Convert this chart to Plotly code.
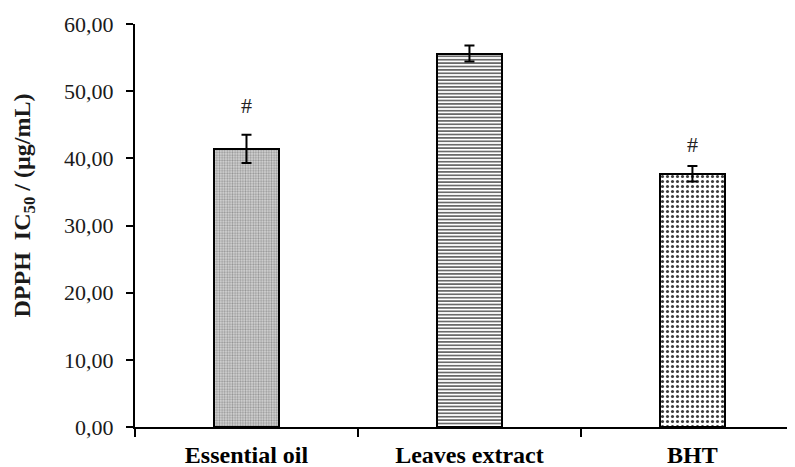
import plotly.graph_objects as go

categories = ["Essential oil", "Leaves extract", "BHT"]
ic50 = [41.4, 55.6, 37.7]
sd = [2.1, 1.2, 1.15]
marks = ["#", "", "#"]

patterns = [
    dict(shape=".", size=2.6, solidity=0.45, fgcolor="#959595", bgcolor="#d8d8d8", fillmode="replace"),
    dict(shape="-", size=3.4, solidity=0.45, fgcolor="#5a5a5a", bgcolor="white", fillmode="replace"),
    dict(shape=".", size=5, solidity=0.3, fgcolor="#3c3c3c", bgcolor="white", fillmode="replace"),
]

fig = go.Figure()
for i, c in enumerate(categories):
    fig.add_trace(go.Bar(
        x=[c], y=[ic50[i]],
        width=0.29,
        marker=dict(color="white", line=dict(color="black", width=2), pattern=patterns[i]),
        error_y=dict(type="data", array=[sd[i]], color="black", thickness=2, width=5),
        showlegend=False,
    ))

shifts = [29, 0, 22]
for i, c in enumerate(categories):
    if marks[i]:
        fig.add_annotation(x=c, y=ic50[i] + sd[i], text=marks[i], showarrow=False,
                           yanchor="middle", yshift=shifts[i],
                           font=dict(family="Liberation Serif", size=22, color="#222"))

# y-axis title as rotated annotation (placed like the reference)
fig.add_annotation(xref="paper", yref="paper", x=-0.168, y=0.55, xanchor="center", yanchor="middle",
                   text="<b>DPPH  IC<sub>50</sub> / (µg/mL)</b>", textangle=-90, showarrow=False,
                   font=dict(family="Liberation Serif", size=24, color="#1a1a1a"))

fig.update_layout(
    width=787, height=459,
    margin=dict(l=127, r=0, t=16, b=40),
    paper_bgcolor="white", plot_bgcolor="white",
    separators=", ",
    font=dict(family="Liberation Serif", color="#1a1a1a"),
    bargap=0,
)
fig.update_xaxes(
    range=[-0.5, 2.46], showline=True, linecolor="black", linewidth=2,
    ticks="outside", tickson="boundaries", ticklen=8, tickwidth=1.5, tickcolor="black",
    tickfont=dict(family="Liberation Serif", size=24, color="black"),
    tickprefix="<b>", ticksuffix="</b>", ticklabelstandoff=5,
    showgrid=False, zeroline=False, automargin=False,
)
fig.update_yaxes(
    range=[0, 60], dtick=10, tickformat=".2f",
    showline=True, linecolor="black", linewidth=2,
    ticks="outside", ticklen=7, tickwidth=2, tickcolor="black",
    tickfont=dict(family="Liberation Serif", size=22, color="#1a1a1a"),
    ticklabelstandoff=8,
    showgrid=False, zeroline=False, automargin=False,
)

fig.write_html("out.html")
